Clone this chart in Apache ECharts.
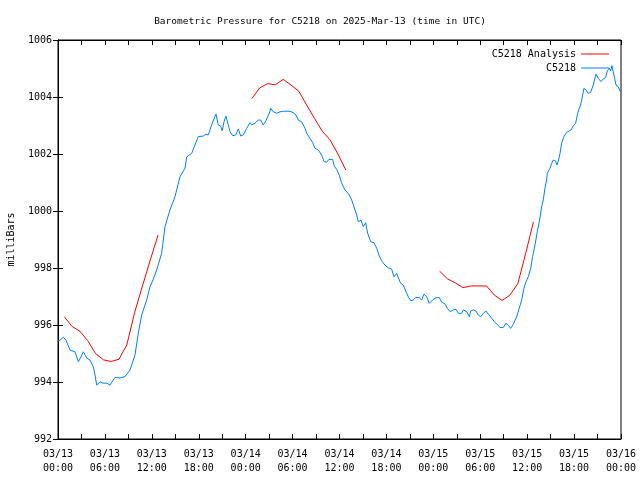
<!DOCTYPE html>
<html>
<head>
<meta charset="utf-8">
<script src="https://cdn.jsdelivr.net/npm/echarts@6/dist/echarts.min.js"></script>
<style>html,body{margin:0;padding:0;background:#fff}#c{width:640px;height:480px}</style>
</head>
<body>
<div id="c"></div>
<script>
// Hours since 2025-03-13 00:00 UTC
var blueHours = [0.0,0.26,0.68,1.02,1.53,2.17,2.6,2.94,3.24,3.67,4.09,4.51,4.73,4.95,5.37,5.75,6.23,6.65,6.91,7.29,7.93,8.57,9.21,9.85,10.27,10.7,10.91,11.34,11.76,12.15,12.62,13.26,13.68,14.32,14.96,15.6,16.24,16.46,16.67,17.1,17.52,17.94,18.58,18.93,19.22,19.65,20.2,20.5,20.8,21.0,21.23,21.48,21.78,22.0,22.34,22.72,23.06,23.36,23.7,24.13,24.55,24.77,25.19,25.61,25.92,26.25,26.6,27.02,27.2,27.53,27.97,28.39,28.81,29.67,30.09,30.43,30.73,31.16,31.59,31.8,32.22,32.57,32.86,33.29,33.72,34.02,34.36,34.65,35.12,35.33,35.64,35.97,36.28,36.7,37.12,37.56,37.85,38.2,38.4,38.75,39.04,39.35,39.6,39.99,40.41,40.76,41.09,41.47,41.82,42.24,42.67,42.97,43.31,43.52,43.82,44.16,44.5,44.8,45.1,45.44,45.78,46.2,46.51,46.8,47.15,47.48,47.91,48.34,48.76,49.06,49.49,49.78,50.13,50.55,50.9,51.2,51.62,51.83,52.26,52.6,52.77,53.11,53.45,53.75,54.05,54.39,54.73,55.03,55.46,55.88,56.18,56.52,56.94,57.29,57.58,57.89,58.22,58.66,58.99,59.3,59.59,59.85,60.14,60.45,60.7,61.0,61.29,61.55,61.85,62.06,62.28,62.49,62.57,62.92,63.13,63.34,63.64,63.81,63.98,64.2,64.41,64.71,65.05,65.26,65.6,65.9,66.2,66.46,66.66,66.84,67.1,67.26,67.52,67.81,68.12,68.45,68.79,69.09,69.44,69.73,70.04,70.24,70.5,70.68,70.84,71.1,71.36,71.65,71.87,72.0];
var blueValues = [995.44,995.47,995.57,995.47,995.12,995.06,994.71,994.88,995.06,994.84,994.77,994.54,994.25,993.89,994.01,993.96,993.96,993.89,994.0,994.16,994.14,994.19,994.42,994.95,995.71,996.35,996.41,996.88,997.34,997.58,997.93,998.52,999.45,1000.04,1000.5,1001.2,1001.5,1001.9,1001.96,1002.02,1002.32,1002.61,1002.63,1002.69,1002.67,1003.02,1003.4,1003.02,1002.98,1002.81,1003.13,1003.33,1003.02,1002.78,1002.64,1002.67,1002.88,1002.63,1002.67,1002.9,1003.1,1003.02,1003.08,1003.19,1003.19,1003.02,1003.17,1003.43,1003.6,1003.48,1003.43,1003.48,1003.5,1003.5,1003.45,1003.37,1003.19,1003.13,1002.9,1002.73,1002.55,1002.4,1002.2,1002.14,1001.96,1001.73,1001.71,1001.81,1001.81,1001.58,1001.46,1001.26,1000.97,1000.74,1000.62,1000.39,1000.15,999.86,999.62,999.68,999.45,999.59,999.22,998.92,998.89,998.69,998.42,998.22,998.1,998.01,997.96,997.69,997.81,997.87,997.46,997.4,997.17,996.99,996.85,996.88,996.97,996.96,996.88,997.08,996.99,996.76,996.88,996.96,996.96,996.8,996.74,996.59,996.47,996.53,996.55,996.41,996.41,996.53,996.47,996.29,996.49,996.53,996.49,996.35,996.29,996.41,996.49,996.38,996.24,996.09,996.02,995.91,995.91,996.06,996.0,995.88,996.02,996.29,996.59,996.88,997.29,997.52,997.69,997.99,998.4,998.81,999.27,999.62,1000.15,1000.39,1000.8,1001.09,1001.32,1001.5,1001.67,1001.79,1001.75,1001.61,1001.75,1002.02,1002.38,1002.61,1002.76,1002.69,1002.84,1002.99,1003.08,1003.43,1003.6,1003.72,1004.07,1004.3,1004.25,1004.13,1004.16,1004.42,1004.8,1004.66,1004.54,1004.63,1004.68,1004.91,1005.01,1004.91,1005.1,1004.77,1004.42,1004.36,1004.21,1004.18];

// Analysis runs (hourly forecasts)
var analysis1Hours = [0.8,1.8,2.8,3.8,4.8,5.8,6.8,7.8,8.8,9.8,10.8,11.8,12.8];
var analysis1Values = [996.29,995.95,995.78,995.45,995.0,994.78,994.72,994.8,995.3,996.44,997.37,998.28,999.16];
var analysis2Hours = [24.8,25.8,26.8,27.8,28.8,29.8,30.8,31.8,32.8,33.8,34.8,35.8,36.8];
var analysis2Values = [1003.95,1004.32,1004.47,1004.43,1004.62,1004.42,1004.2,1003.72,1003.25,1002.8,1002.49,1002.0,1001.44];
var analysis3Hours = [48.8,49.8,50.8,51.8,52.8,53.8,54.8,55.8,56.8,57.8,58.8,59.8,60.8];
var analysis3Values = [997.89,997.62,997.48,997.31,997.37,997.37,997.37,997.05,996.86,997.05,997.45,998.5,999.62];

var xTickLabels = ["03/13\n00:00","03/13\n06:00","03/13\n12:00","03/13\n18:00","03/14\n00:00","03/14\n06:00","03/14\n12:00","03/14\n18:00","03/15\n00:00","03/15\n06:00","03/15\n12:00","03/15\n18:00","03/16\n00:00"];
var yTicks = [992,994,996,998,1000,1002,1004,1006];

function zip(a,b){return a.map(function(v,i){return [v,b[i]];});}
var blueData = zip(blueHours, blueValues);
var redData = zip(analysis1Hours, analysis1Values).concat(['-'])
  .concat(zip(analysis2Hours, analysis2Values)).concat(['-'])
  .concat(zip(analysis3Hours, analysis3Values));

var FONT = 'DejaVu Sans Mono';
var chart = echarts.init(document.getElementById('c'), null, {renderer:'canvas'});
var xBase = {
  type:'value', min:0, max:72, interval:6,
  axisLine:{show:true, lineStyle:{color:'#000', width:1}},
  axisTick:{show:true, inside:true, length:5, lineStyle:{color:'#000'}},
  minorTick:{show:true, splitNumber:2, length:5, lineStyle:{color:'#000'}},
  splitLine:{show:false}, minorSplitLine:{show:false}
};
var yBase = {
  type:'value', min:yTicks[0], max:yTicks[yTicks.length-1], interval:2,
  axisLine:{show:true, lineStyle:{color:'#000', width:1}},
  axisTick:{show:true, inside:true, length:5, lineStyle:{color:'#000'}},
  splitLine:{show:false}
};
chart.setOption({
  animation:false,
  backgroundColor:'#fff',
  title:{text:'Barometric Pressure for C5218 on 2025-Mar-13 (time in UTC)', left:'center', top:12,
    textStyle:{fontFamily:FONT, fontSize:9.5, fontWeight:'normal', color:'#000'}},
  grid:{left:58, right:19, top:40, bottom:41, containLabel:false, outerBoundsMode:'none',
    show:true, borderColor:'#000', borderWidth:1},
  legend:{orient:'vertical', right:26, top:43, align:'right', itemWidth:28, itemHeight:1, itemGap:2,
    textStyle:{fontFamily:FONT, fontSize:10, color:'#000', lineHeight:12},
    data:[{name:'C5218 Analysis', icon:'rect'},{name:'C5218', icon:'rect'}]},
  xAxis:[
    Object.assign({}, xBase, {position:'bottom',
      axisLabel:{show:true, margin:8, fontFamily:FONT, fontSize:10, color:'#000', lineHeight:14,
        formatter:function(v){var i=Math.round(v/6); return xTickLabels[i]||'';}}}),
    Object.assign({}, xBase, {position:'top', axisLabel:{show:false}})
  ],
  yAxis:[
    Object.assign({}, yBase, {position:'left', name:'milliBars', nameLocation:'middle', nameRotate:90, nameGap:42,
      nameTextStyle:{fontFamily:FONT, fontSize:10, color:'#000'},
      axisLabel:{show:true, margin:6, fontFamily:FONT, fontSize:10, color:'#000',
        formatter:function(v){return String(v);}}}),
    Object.assign({}, yBase, {position:'right', axisLabel:{show:false}})
  ],
  series:[
    {name:'C5218 Analysis', type:'line', data:redData, showSymbol:false, symbol:'none', connectNulls:false,
      lineStyle:{color:'#ff0000', width:1}, itemStyle:{color:'#ff0000'}, z:3},
    {name:'C5218', type:'line', data:blueData, showSymbol:false, symbol:'none',
      lineStyle:{color:'#0080ff', width:1}, itemStyle:{color:'#0080ff'}, z:2}
  ]
});
</script>
</body>
</html>
